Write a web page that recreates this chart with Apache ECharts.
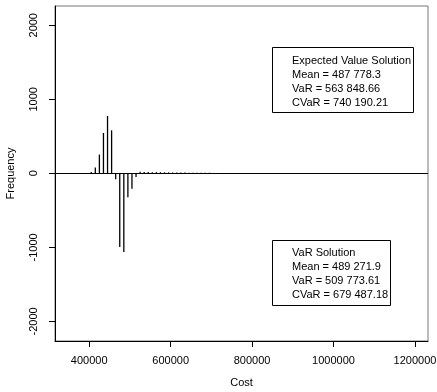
<!DOCTYPE html>
<html>
<head>
<meta charset="utf-8">
<script src="https://cdn.jsdelivr.net/npm/echarts@6/dist/echarts.min.js"></script>
<style>
    html, body { margin: 0; padding: 0; background: #fff; }
    #chart { width: 437px; height: 392px; }
</style>
</head>
<body>
<div id="chart"></div>
<script>
    // cost bins (bin centres) and frequencies
    var evCost = [405000, 415000, 425000, 435000, 445000, 455000,
        525000, 535000, 545000, 555000, 565000, 575000, 585000, 595000, 605000, 615000,
        625000, 635000, 645000, 655000, 665000, 675000, 685000, 695000, 705000, 715000,
        725000, 735000, 745000, 755000, 765000, 775000, 785000, 795000, 805000, 815000,
        825000, 835000, 845000, 855000, 865000, 875000, 885000, 895000, 905000, 915000,
        925000, 935000, 945000, 955000, 965000, 975000, 985000, 995000, 1005000, 1015000,
        1025000, 1035000, 1045000, 1055000, 1065000, 1075000, 1085000, 1095000, 1105000,
        1115000, 1125000, 1135000, 1145000, 1155000, 1165000, 1175000, 1185000, 1195000];
    var evFreq = [18, 77, 253, 545, 775, 581,
        20, 18, 18, 16, 16, 15, 14, 13, 12, 11,
        10, 10, 9, 8, 8, 7, 6, 6, 5, 5,
        4, 4, 3, 3, 3, 3, 3, 2, 2, 2,
        2, 2, 2, 2, 2, 2, 2, 2, 2, 2,
        2, 2, 2, 2, 2, 2, 2, 2, 2, 2,
        2, 2, 2, 2, 2, 2, 2, 2, 2,
        2, 2, 2, 2, 2, 2, 2, 2, 2];
    // VaR solution drawn downwards (negative frequency)
    var varCost = [465000, 475000, 485000, 495000, 505000, 515000];
    var varFreq = [-81, -996, -1063, -324, -207, -50];

    var xTicks = [400000, 600000, 800000, 1000000, 1200000];
    var yTicks = [-2000, -1000, 0, 1000, 2000];

    var evLines = ["Expected Value Solution", "Mean = 487 778.3", "VaR = 563 848.66", "CVaR = 740 190.21"];
    var varLines = ["VaR Solution", "Mean = 489 271.9", "VaR = 509 773.61", "CVaR = 679 487.18"];

    function pairs(xs, ys) {
        var out = [];
        for (var i = 0; i < xs.length; i++) {
            out.push([xs[i], ys[i]]);
        }
        return out;
    }

    var font = "'Liberation Sans', Arial, sans-serif";
    var chart = echarts.init(document.getElementById("chart"), null, {renderer: "canvas"});

    var option = {
        animation: false,
        textStyle: {fontFamily: font, color: "#000"},
        grid: {
            left: 55, right: 9, top: 6, bottom: 51,
            outerBoundsMode: "none",
            containLabel: false,
            show: true,
            borderColor: "#777",
            borderWidth: 1,
        },
        title: [
            {
                text: evLines.join("\n"),
                left: 272, top: 47,
                padding: [7, 3, 3, 20],
                borderColor: "#000",
                borderWidth: 1,
                textStyle: {fontFamily: font, fontSize: 11, fontWeight: "normal", color: "#000", lineHeight: 14},
            },
            {
                text: varLines.join("\n"),
                left: 272, top: 240,
                padding: [6, 3, 4, 20],
                borderColor: "#000",
                borderWidth: 1,
                textStyle: {fontFamily: font, fontSize: 11, fontWeight: "normal", color: "#000", lineHeight: 14},
            },
        ],
        xAxis: {
            type: "value",
            min: 316000,
            max: 1232000,
            name: "Cost",
            nameLocation: "middle",
            nameGap: 36,
            nameTextStyle: {fontFamily: font, fontSize: 11, color: "#000"},
            axisLine: {show: true, onZero: false, lineStyle: {color: "#000", width: 1}},
            axisTick: {show: true, length: 6, inside: false, customValues: xTicks, lineStyle: {color: "#000"}},
            axisLabel: {
                customValues: xTicks, fontFamily: font, fontSize: 11, color: "#000", margin: 14,
                formatter: function (v) { return String(v); },
            },
            splitLine: {show: false},
        },
        yAxis: {
            type: "value",
            min: -2265,
            max: 2260,
            name: "Frequency",
            nameLocation: "middle",
            nameGap: 39,
            nameRotate: 90,
            nameTextStyle: {fontFamily: font, fontSize: 11, color: "#000"},
            axisLine: {show: true, onZero: false, lineStyle: {color: "#000", width: 1}},
            axisTick: {show: true, length: 6, customValues: yTicks, lineStyle: {color: "#000"}},
            axisLabel: {
                customValues: yTicks, rotate: 90, fontFamily: font, fontSize: 11, color: "#000", margin: 16,
                formatter: function (v) { return String(v); },
            },
            splitLine: {show: false},
        },
        series: [
            {
                name: "Expected Value Solution",
                type: "bar",
                data: pairs(evCost, evFreq),
                barWidth: 1.3,
                barGap: "-100%",
                itemStyle: {color: "#000"},
                silent: true,
                markLine: {
                    silent: true,
                    symbol: "none",
                    label: {show: false},
                    lineStyle: {color: "#000", type: "solid", width: 1},
                    data: [{yAxis: 0}],
                },
            },
            {
                name: "VaR Solution",
                type: "bar",
                data: pairs(varCost, varFreq),
                barWidth: 1.3,
                barGap: "-100%",
                itemStyle: {color: "#000"},
                silent: true,
            },
        ],
    };
    chart.setOption(option);
</script>
</body>
</html>
